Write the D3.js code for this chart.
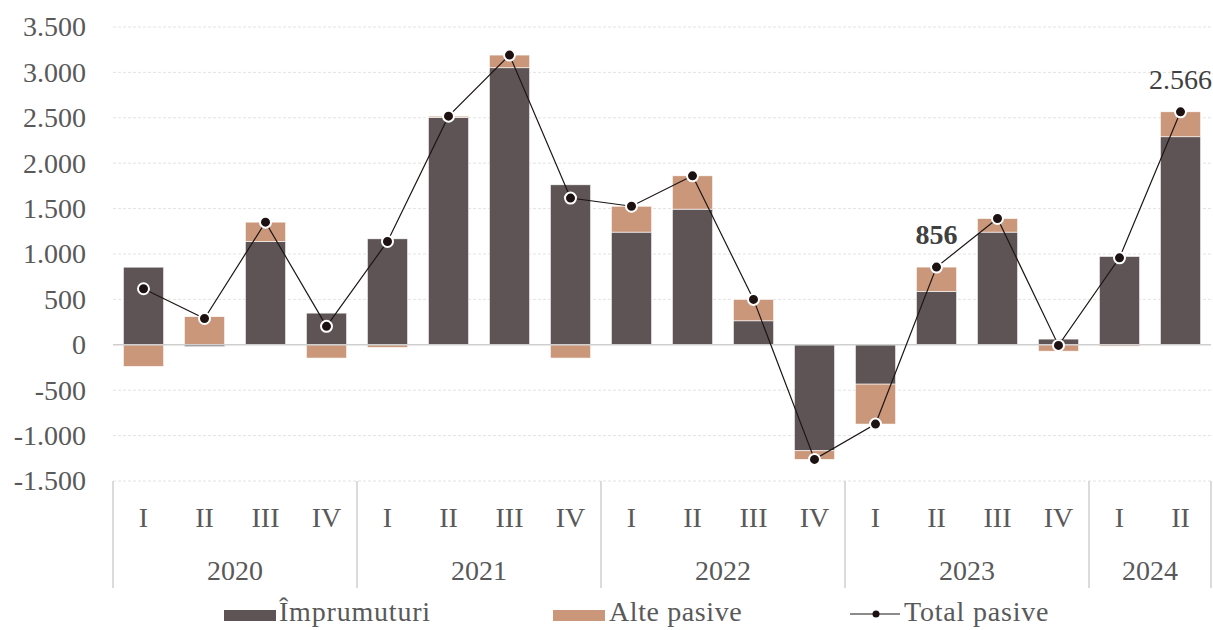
<!DOCTYPE html>
<html>
<head>
<meta charset="utf-8">
<script src="https://cdn.jsdelivr.net/npm/d3@7"></script>
<style>
  body { margin: 0; background: #fff; }
  text { font-family: "Liberation Serif", serif; }
</style>
</head>
<body>
<div id="chart"></div>
<script>
// quarters and years
var quarters = ["I","II","III","IV","I","II","III","IV","I","II","III","IV","I","II","III","IV","I","II"];
var years = ["2020","2021","2022","2023","2024"];
var yearOf = [0,0,0,0,1,1,1,1,2,2,2,2,3,3,3,3,4,4];

// series values (mil.)
var imprumuturi = [855, -20, 1139, 349, 1167, 2504, 3051, 1762, 1241, 1494, 264, -1167, -433, 588, 1241, 63, 973, 2291];
var altePasive  = [-238, 310, 212, -146, -29, 14, 140, -146, 285, 367, 236, -95, -440, 268, 150, -70, -15, 275];
var totalPasive = [617, 290, 1351, 203, 1138, 2518, 3191, 1616, 1526, 1861, 500, -1262, -873, 856, 1391, -7, 958, 2566];

var yTicks = [-1500, -1000, -500, 0, 500, 1000, 1500, 2000, 2500, 3000, 3500];

var width = 1213, height = 630;
var svg = d3.select("#chart").append("svg")
  .attr("width", width)
  .attr("height", height)

var x = d3.scaleBand()
  .domain(d3.range(quarters.length))
  .range([113, 1211])
  .paddingInner(0.34)
  .paddingOuter(0.17)

var y = d3.scaleLinear()
  .domain([-1500, 3500])
  .range([481, 27])

// 1.500 style, with a plain hyphen for negatives
var fmt = function(v) { return d3.format(",")(v).replace(/,/g, ".").replace("\u2212", "-"); }

// gridlines
svg.append("g").selectAll("line")
  .data(yTicks.filter(function(d){ return d !== 0; }))
  .enter()
  .append("line")
    .attr("x1", 113).attr("x2", 1211)
    .attr("y1", function(d){ return y(d); })
    .attr("y2", function(d){ return y(d); })
    .style("stroke", "#e3e3e3")
    .style("stroke-width", 1)
    .style("stroke-dasharray", "3,2")

// y axis labels
var yAxis = d3.axisLeft(y).tickValues(yTicks).tickSize(0).tickPadding(0).tickFormat(fmt);
svg.append("g")
  .attr("transform", "translate(86,0)")
  .call(yAxis)
  .call(function(g){ g.select(".domain").remove(); })
  .selectAll("text")
    .style("font-family", "Liberation Serif, serif")
    .style("font-size", "28px")
    .style("fill", "#595959")

// stacked bars
var rows = imprumuturi.map(function(v, i){ return { i: i, impr: v, alte: altePasive[i] }; });
var series = d3.stack()
  .keys(["impr", "alte"])
  .offset(d3.stackOffsetDiverging)(rows);
var colors = { impr: "#5e5455", alte: "#cb977b" };

svg.append("g").selectAll("g")
  .data(series)
  .enter()
  .append("g")
    .style("fill", function(d){ return colors[d.key]; })
  .selectAll("rect")
  .data(function(d){ return d; })
  .enter()
  .append("rect")
    .attr("x", function(d){ return x(d.data.i); })
    .attr("width", x.bandwidth())
    .attr("y", function(d){ return y(Math.max(d[0], d[1])); })
    .attr("height", function(d){ return Math.abs(y(d[0]) - y(d[1])); })
    .style("stroke", "#fff")
    .style("stroke-width", 0.6)

// zero line
svg.append("line")
  .attr("x1", 113).attr("x2", 1211)
  .attr("y1", y(0)).attr("y2", y(0))
  .style("stroke", "#cfcfcf")
  .style("stroke-width", 1.5)

// total line + markers
var cx = function(d, i){ return x(i) + x.bandwidth() / 2; };
svg.append("path")
  .datum(totalPasive)
  .attr("d", d3.line().x(cx).y(function(d){ return y(d); }))
  .style("fill", "none")
  .style("stroke", "#1d1616")
  .style("stroke-width", 1.2)

svg.append("g").selectAll("circle")
  .data(totalPasive)
  .enter()
  .append("circle")
    .attr("cx", cx)
    .attr("cy", function(d){ return y(d); })
    .attr("r", 5.5)
    .style("fill", "#1d1111")
    .style("stroke", "#fff")
    .style("stroke-width", 2)

// value labels
var labelled = [13, 17];
svg.append("g").selectAll("text")
  .data(labelled)
  .enter()
  .append("text")
    .attr("x", function(i){ return x(i) + x.bandwidth() / 2; })
    .attr("y", function(i){ return y(totalPasive[i]) - 23; })
    .attr("text-anchor", "middle")
    .text(function(i){ return fmt(totalPasive[i]); })
    .style("font-size", "28px")
    .style("font-weight", function(i){ return i === 13 ? "bold" : "normal"; })
    .style("fill", "#404040")

// category axis
svg.append("g").selectAll("text")
  .data(quarters)
  .enter()
  .append("text")
    .attr("x", function(d, i){ return x(i) + x.bandwidth() / 2; })
    .attr("y", 517)
    .attr("text-anchor", "middle")
    .attr("dominant-baseline", "central")
    .text(function(d){ return d; })
    .style("font-size", "28px")
    .style("fill", "#595959")

var yearRanges = years.map(function(yr, k){
  var idx = d3.range(quarters.length).filter(function(i){ return yearOf[i] === k; });
  return { year: yr, first: idx[0], last: idx[idx.length - 1] };
});
var step = x.step();
var bandLeft = function(i){ return x(i) - (step - x.bandwidth()) / 2; };

svg.append("g").selectAll("line")
  .data(yearRanges.map(function(r){ return bandLeft(r.first); }).concat([1211]))
  .enter()
  .append("line")
    .attr("x1", function(d){ return d; }).attr("x2", function(d){ return d; })
    .attr("y1", 481).attr("y2", 588)
    .style("stroke", "#cfcfcf")
    .style("stroke-width", 1.5)

svg.append("g").selectAll("text")
  .data(yearRanges)
  .enter()
  .append("text")
    .attr("x", function(r){ return (bandLeft(r.first) + bandLeft(r.last) + step) / 2; })
    .attr("y", 570)
    .attr("text-anchor", "middle")
    .attr("dominant-baseline", "central")
    .text(function(r){ return r.year; })
    .style("font-size", "28px")
    .style("fill", "#595959")

// legend
var legend = svg.append("g")
legend.append("rect").attr("x", 224).attr("y", 610).attr("width", 52).attr("height", 11).style("fill", colors.impr)
legend.append("text").attr("x", 279).attr("y", 621)
  .text("Împrumuturi").style("font-size", "28px").style("letter-spacing", "0.8px").style("fill", "#595959")
legend.append("rect").attr("x", 553).attr("y", 610).attr("width", 52).attr("height", 11).style("fill", colors.alte)
legend.append("text").attr("x", 609).attr("y", 621)
  .text("Alte pasive").style("font-size", "28px").style("letter-spacing", "0.6px").style("fill", "#595959")
legend.append("line").attr("x1", 850).attr("y1", 614).attr("x2", 900).attr("y2", 614)
  .style("stroke", "#1d1616").style("stroke-width", 1.2)
legend.append("circle").attr("cx", 876).attr("cy", 614).attr("r", 3.5).style("fill", "#1d1111")
legend.append("text").attr("x", 904).attr("y", 621)
  .text("Total pasive").style("font-size", "28px").style("letter-spacing", "0.8px").style("fill", "#595959")
</script>
</body>
</html>
